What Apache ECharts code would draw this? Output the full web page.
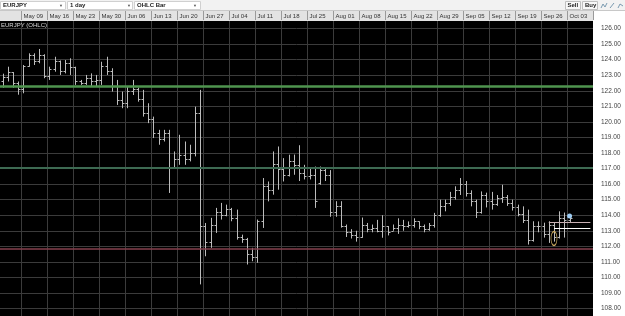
<!DOCTYPE html>
<html><head><meta charset="utf-8">
<script src="https://cdn.jsdelivr.net/npm/echarts@6/dist/echarts.min.js"></script>
<style>html,body{margin:0;padding:0;background:#000;}#c{width:625px;height:316px;}</style>
</head><body><div id="c"></div>
<script>
// Trading days (weekdays) from Tue 2016-05-03 to Fri 2016-10-07
const MONTHS = ['Jan','Feb','Mar','Apr','May','Jun','Jul','Aug','Sep','Oct','Nov','Dec'];
const categories = [];
(function(){
  let d = new Date(Date.UTC(2016,4,3));
  while (categories.length < 114) {
    const wd = d.getUTCDay();
    if (wd !== 0 && wd !== 6) {
      categories.push(MONTHS[d.getUTCMonth()] + ' ' + String(d.getUTCDate()).padStart(2,'0'));
    }
    d = new Date(d.getTime() + 86400000);
  }
})();
const weekTicks = ['May 09','May 16','May 23','May 30','Jun 06','Jun 13','Jun 20','Jun 27','Jul 04','Jul 11','Jul 18','Jul 25','Aug 01','Aug 08','Aug 15','Aug 22','Aug 29','Sep 05','Sep 12','Sep 19','Sep 26','Oct 03'];

const openP = [122.6,122.9,123.2,122.5,122.1,123.6,124.3,123.9,124.3,122.95,
123.4,123.9,123.3,123.8,123.5,122.6,122.5,122.8,122.6,122.7,
123.6,123.3,122.3,121.4,121.2,122.0,122.1,121.5,120.6,120.2,
119.3,118.9,119.3,117.05,117.6,117.9,117.6,118.0,120.6,113.3,
112.3,113.4,114.2,114.0,114.4,113.8,112.6,112.5,111.5,111.3,
113.6,115.9,115.6,117.3,117.0,116.6,117.5,117.2,116.7,116.5,
116.6,116.1,116.9,116.6,114.2,114.6,113.3,112.9,112.7,112.6,
113.4,113.1,113.2,113.0,113.3,113.0,113.2,113.4,113.3,113.4,
113.6,113.3,113.1,113.4,114.0,114.6,114.8,115.2,115.6,116.0,
115.4,114.9,114.2,115.3,114.9,114.7,115.1,115.2,114.8,114.5,
114.1,113.7,112.4,113.3,113.3,112.8,113.4,112.6,113.8,113.7];
const highP = [123.1,123.55,123.2,122.6,123.66,124.41,124.41,124.69,124.35,123.55,
124.19,123.95,123.98,124.09,123.55,122.7,123.02,123.12,123.02,123.87,
124.19,123.45,122.7,121.95,122.27,122.7,122.2,122.06,121.2,120.34,
119.49,119.49,119.49,118.1,119.17,118.74,118.53,120.98,122.06,113.5,
113.83,114.47,114.79,114.68,114.47,114.36,112.75,112.54,111.9,113.72,
116.39,116.17,118.1,118.42,117.67,117.89,117.9,118.5,117.24,117.0,
117.13,117.13,117.0,116.9,114.9,114.9,113.4,113.1,113.0,113.85,
113.5,113.4,113.7,114.0,113.3,113.4,113.8,113.7,113.6,113.8,
113.6,113.4,113.5,114.15,115.0,115.0,115.5,115.86,116.39,116.2,
115.6,115.0,115.53,115.45,115.5,115.3,115.96,115.3,115.0,114.68,
114.57,114.36,113.61,113.6,113.52,113.61,113.5,114.25,114.17,114.0];
const lowP = [122.2,122.6,122.2,121.75,121.84,123.55,123.66,123.77,122.81,122.7,
123.23,123.02,123.12,123.02,122.38,122.38,122.38,122.27,122.27,122.38,
123.02,121.95,121.09,120.88,120.88,121.73,121.3,120.34,119.92,118.96,
118.53,118.74,115.43,117.0,117.24,117.24,117.46,117.78,109.55,111.36,
111.9,112.86,113.72,113.93,113.61,112.43,112.22,110.83,111.04,110.94,
113.18,114.89,115.32,115.64,116.17,116.49,116.6,116.2,116.3,116.3,
114.47,115.96,116.2,113.9,113.9,113.2,112.6,112.5,112.3,112.55,
112.9,112.9,112.9,112.55,112.7,113.0,112.8,113.0,113.2,113.2,
113.1,112.9,113.0,113.2,113.9,114.25,114.6,115.0,115.3,115.2,
114.57,113.82,114.1,114.5,114.36,114.6,114.79,114.6,114.3,113.93,
113.5,112.11,112.3,112.9,112.56,112.22,112.3,112.5,112.56,113.5];
const closeP = [122.9,123.2,122.5,122.1,123.6,124.3,123.9,124.3,122.95,123.4,
123.9,123.3,123.8,123.5,122.6,122.5,122.8,122.6,122.7,123.6,
123.3,122.3,121.4,121.2,122.0,122.1,121.5,120.6,120.2,119.3,
118.9,119.3,117.05,117.6,117.9,117.6,118.0,120.6,113.3,112.3,
113.4,114.2,114.0,114.4,113.8,112.6,112.5,111.5,111.3,113.6,
115.9,115.6,117.3,117.0,116.6,117.5,117.2,116.7,116.5,116.6,
114.9,116.9,116.6,114.2,114.6,113.3,112.9,112.7,112.6,113.4,
113.1,113.2,113.0,113.3,112.9,113.2,113.4,113.3,113.4,113.6,
113.3,113.1,113.4,114.0,114.6,114.8,115.2,115.6,116.0,115.4,
114.9,114.2,115.3,114.9,114.7,115.1,115.2,114.8,114.5,114.1,
113.7,112.4,113.3,113.3,112.8,113.4,112.6,113.8,113.7,113.8];

const levelLines = [122.31, 117.08, 111.83];
const tradeLevels = [113.57, 113.18];

const ohlc = openP.map((o,i)=>[i,o,highP[i],lowP[i],closeP[i]]);
const isWeekStart = (i) => weekTicks.indexOf(categories[i]) >= 0;
const FONT = 'Liberation Sans';
const BAR = '#bcbcbc';

function renderItem(params, api){
  const i = api.value(0);
  const p = (v)=>api.coord([i,v]);
  const cx = Math.round(p(api.value(1))[0]) + 0.5;
  const oy = Math.round(p(api.value(1))[1]) + 0.5;
  const hy = p(api.value(2))[1];
  const ly = p(api.value(3))[1];
  const cy = Math.round(p(api.value(4))[1]) + 0.5;
  const st = {stroke: BAR, lineWidth: 1};
  return {type:'group', children:[
    {type:'line', shape:{x1:cx,y1:hy,x2:cx,y2:ly}, style:st},
    {type:'line', shape:{x1:cx-2,y1:oy,x2:cx,y2:oy}, style:st},
    {type:'line', shape:{x1:cx,y1:cy,x2:cx+2,y2:cy}, style:st}
  ]};
}

const chart = echarts.init(document.getElementById('c'), null, {renderer:'canvas'});
const txt = (x,y,t,o)=>Object.assign({type:'text', z:60, style:{x:x,y:y,text:t,fill:'#222',font:'bold 6px '+FONT,textVerticalAlign:'middle'}}, o||{});
chart.setOption({
  animation:false,
  backgroundColor:'#000',
  grid:{left:0,right:32,top:13.05,height:311,containLabel:false,outerBoundsMode:'none'},
  xAxis:[
    {type:'category',data:categories,boundaryGap:true,position:'bottom',
     axisLine:{show:false,onZero:false},axisTick:{show:false},axisLabel:{show:false},
     splitLine:{show:true,interval:(i)=>isWeekStart(i),lineStyle:{color:'#3b3b3b',width:1}}},
    {type:'category',data:categories,boundaryGap:true,position:'top',offset:2.05,z:100,
     axisLine:{show:false,onZero:false},
     axisTick:{show:true,inside:true,length:9,interval:(i)=>isWeekStart(i),lineStyle:{color:'#9a9a9a'}},
     axisLabel:{show:true,inside:true,interval:(i)=>isWeekStart(i),align:'left',verticalAlign:'top',margin:2,
       fontSize:6,fontFamily:FONT,color:'#333'},
     splitLine:{show:false}}
  ],
  yAxis:[
    {type:'value',min:107,max:127,interval:1,position:'right',
     axisLine:{show:false},axisTick:{show:false},axisLabel:{show:false},
     splitLine:{show:true,lineStyle:{color:'#3b3b3b',width:1}}},
    {type:'value',min:107,max:127,interval:1,position:'right',z:100,
     axisLine:{show:false},axisTick:{show:false},splitLine:{show:false},
     axisLabel:{show:true,showMinLabel:false,showMaxLabel:false,margin:8,align:'left',
       fontSize:6.5,fontFamily:FONT,color:'#444',formatter:(v)=>v.toFixed(2)}}
  ],
  series:[{
    type:'custom',xAxisIndex:0,yAxisIndex:0,renderItem:renderItem,data:ohlc,
    encode:{x:0,y:[1,2,3,4]},clip:true,
    markLine:{silent:true,symbol:['none','none'],label:{show:false},animation:false,
      data:[
        {yAxis:levelLines[0],lineStyle:{color:'#4f944f',width:2.5,type:'solid'}},
        {yAxis:levelLines[1],lineStyle:{color:'#3d6a52',width:2,type:'solid'}},
        {yAxis:levelLines[2],lineStyle:{color:'#86404e',width:1.5,type:'solid'}},
        [{coord:[105,tradeLevels[0]],lineStyle:{color:'#c9b0b4',width:1,type:'solid'}},{coord:[113,tradeLevels[0]]}],
        [{coord:[106,tradeLevels[1]],lineStyle:{color:'#ffffff',width:1,type:'solid'}},{coord:[113,tradeLevels[1]]}]
      ]},
    markPoint:{silent:true,label:{show:false},animation:false,
      data:[
        {coord:[106,112.5],symbol:'circle',symbolSize:[6,14],itemStyle:{color:'rgba(0,0,0,0)',borderColor:'#c9a85c',borderWidth:1}},
        {coord:[109,113.95],symbol:'circle',symbolSize:5,itemStyle:{color:'#9ccbf2'}}
      ]}
  }],
  graphic:[
    {type:'rect',z:50,shape:{x:0,y:0,width:625,height:11},style:{fill:'#f2f2f2'}},
    {type:'rect',z:50,shape:{x:0,y:11,width:593,height:10},style:{fill:'#e3e3e3'}},
    {type:'rect',z:50,shape:{x:593,y:11,width:32,height:305},style:{fill:'#ffffff'}},
    {type:'line',z:51,shape:{x1:0,y1:10.5,x2:625,y2:10.5},style:{stroke:'#c8c8c8',lineWidth:1}},
    {type:'rect',z:55,shape:{x:0.5,y:1.5,width:65,height:8},style:{fill:'#fff',stroke:'#d0d0d0',lineWidth:1}},
    {type:'rect',z:55,shape:{x:67.5,y:1.5,width:65,height:8},style:{fill:'#fff',stroke:'#d0d0d0',lineWidth:1}},
    {type:'rect',z:55,shape:{x:134.5,y:1.5,width:66,height:8},style:{fill:'#fff',stroke:'#d0d0d0',lineWidth:1}},
    txt(3,5.5,'EURJPY'),
    txt(70,5.5,'1 day'),
    txt(137,5.5,'OHLC Bar'),
    txt(59,5.5,'▼',{style:{x:59,y:5.5,text:'▼',fill:'#555',font:'4px '+FONT,textVerticalAlign:'middle'}}),
    txt(127,5.5,'▼',{style:{x:127,y:5.5,text:'▼',fill:'#555',font:'4px '+FONT,textVerticalAlign:'middle'}}),
    txt(193,5.5,'▼',{style:{x:193,y:5.5,text:'▼',fill:'#555',font:'4px '+FONT,textVerticalAlign:'middle'}}),
    {type:'rect',z:55,shape:{x:565.5,y:1.5,width:15,height:8},style:{fill:'#f8f8f8',stroke:'#c0c0c0',lineWidth:1}},
    {type:'rect',z:55,shape:{x:582.5,y:1.5,width:15,height:8},style:{fill:'#f8f8f8',stroke:'#c0c0c0',lineWidth:1}},
    txt(567.5,5.5,'Sell'),
    txt(585,5.5,'Buy'),
    {type:'polyline',z:56,shape:{points:[[601,8],[603,4],[605,7],[607,3]]},style:{stroke:'#7a9ab0',lineWidth:1,fill:null}},
    {type:'line',z:56,shape:{x1:610,y1:8,x2:614,y2:3},style:{stroke:'#7a9ab0',lineWidth:1}},
    {type:'polyline',z:56,shape:{points:[[618,8],[620,4],[623,6]]},style:{stroke:'#7a9ab0',lineWidth:1,fill:null}},
    {type:'text',z:60,style:{x:1,y:25,text:'EURJPY (OHLC)',fill:'#d8d8d8',font:'6px '+FONT,textVerticalAlign:'middle'}}
  ]
});
</script></body></html>
